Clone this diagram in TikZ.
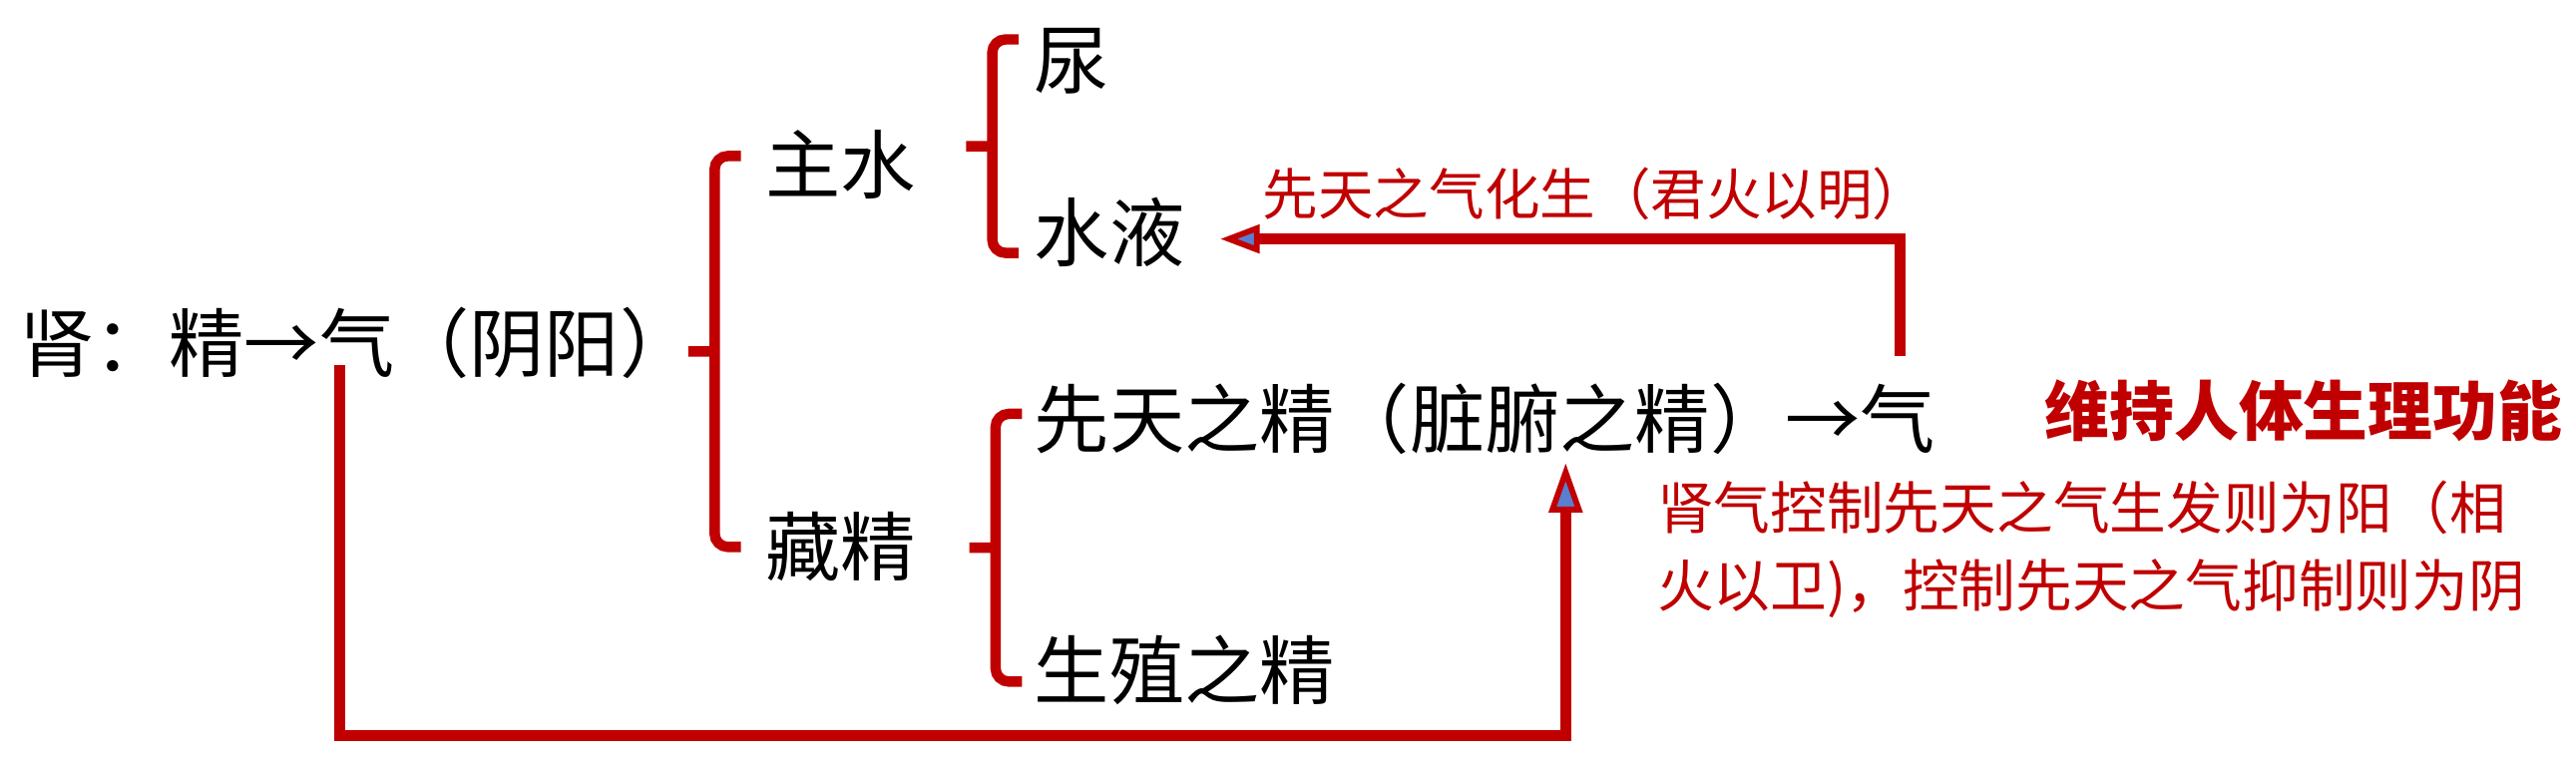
\documentclass[tikz,border=0pt]{standalone}
\usepackage{fontspec}
\usepackage{xcolor}
\usetikzlibrary{calc,positioning,arrows.meta}
\newfontfamily\cjk{Noto Sans CJK SC}
\definecolor{kidneyred}{HTML}{C00000}
\definecolor{tipblue}{HTML}{5B7FD0}
\tikzset{
  term/.style={ % black item of the outline
    inner sep=0pt, anchor=west, text=black,
    font=\cjk\fontsize{13}{15}\selectfont
  },
  remark/.style={ % small red remark
    inner sep=0pt, anchor=west, text=kidneyred, align=left,
    font=\cjk\fontsize{9.8}{13.4}\selectfont
  },
  headline/.style={ % bold red function text
    inner sep=0pt, anchor=west, text=kidneyred,
    font=\cjk\bfseries\fontsize{11.2}{13}\selectfont
  },
  bracket/.style={ % red curly bracket, drawn bottom to top
    kidneyred, line width=1.8pt,
    to path={
      [rounded corners=0.08cm] -- ++(-0.16,0) |- (\tikztotarget)
      ($(\tikztostart)!0.5!(\tikztotarget)+(-0.16,0)$) -- ++(-0.16,0)
    }
  },
  flow/.style={ % red connector, blue filled head
    kidneyred, line width=1.9pt,
    -{Triangle[length=0.24cm, width=0.17cm, line width=1pt, fill=tipblue]}
  }
}
\begin{document}
\begin{tikzpicture}
  \useasboundingbox (0,0) rectangle (15.68,4.65);

  \node[term] (shen) at (0.11,2.56) {肾：精→气（阴阳）};
  \node[term] (zhushui) at (4.655,3.65) {主水};
  \node[term] (cangjing) at (4.655,1.32) {藏精};
  \node[term] (niao) at (6.29,4.275) {尿};
  \node[term] (shuiye) at (6.29,3.235) {水液};
  \node[term] (xiantian) at (6.29,2.10) {先天之精（脏腑之精）→气};
  \node[term] (shengzhi) at (6.29,0.57) {生殖之精};

  \node[remark, font=\cjk\fontsize{9.6}{12}\selectfont] (hualabel) at (7.68,3.47) {先天之气化生（君火以明）};
  \node[headline] (weichi) at (12.44,2.15) {维持人体生理功能};
  \node[remark] (kongzhi) at (10.08,1.305) {肾气控制先天之气生发则为阳（相\\火以卫)，控制先天之气抑制则为阴};

  % brackets
  \draw[bracket] ($(cangjing.west)+(-0.145,0)$) to ($(zhushui.west)+(-0.145,0.05)$);
  \draw[bracket] ($(shuiye.west)+(-0.09,-0.125)$) to ($(niao.west)+(-0.09,0.135)$);
  \draw[bracket] ($(shengzhi.west)+(-0.07,-0.07)$) to ($(xiantian.west)+(-0.07,0.03)$);

  % connectors
  \coordinate (qiup) at ($(xiantian.east)+(-0.22,0.38)$);
  \coordinate (qidown) at ($(shen.west)+(1.96,-0.13)$);
  \draw[flow] (qiup) |- ($(shuiye.east)+(0.21,-0.04)$);
  \draw[flow, -{Triangle[length=0.3cm, width=0.2cm, line width=1pt, fill=tipblue]}]
    (qidown) -- ++(0,-2.26) -| ($(xiantian.west)+(3.24,-0.27)$);
\end{tikzpicture}
\end{document}
